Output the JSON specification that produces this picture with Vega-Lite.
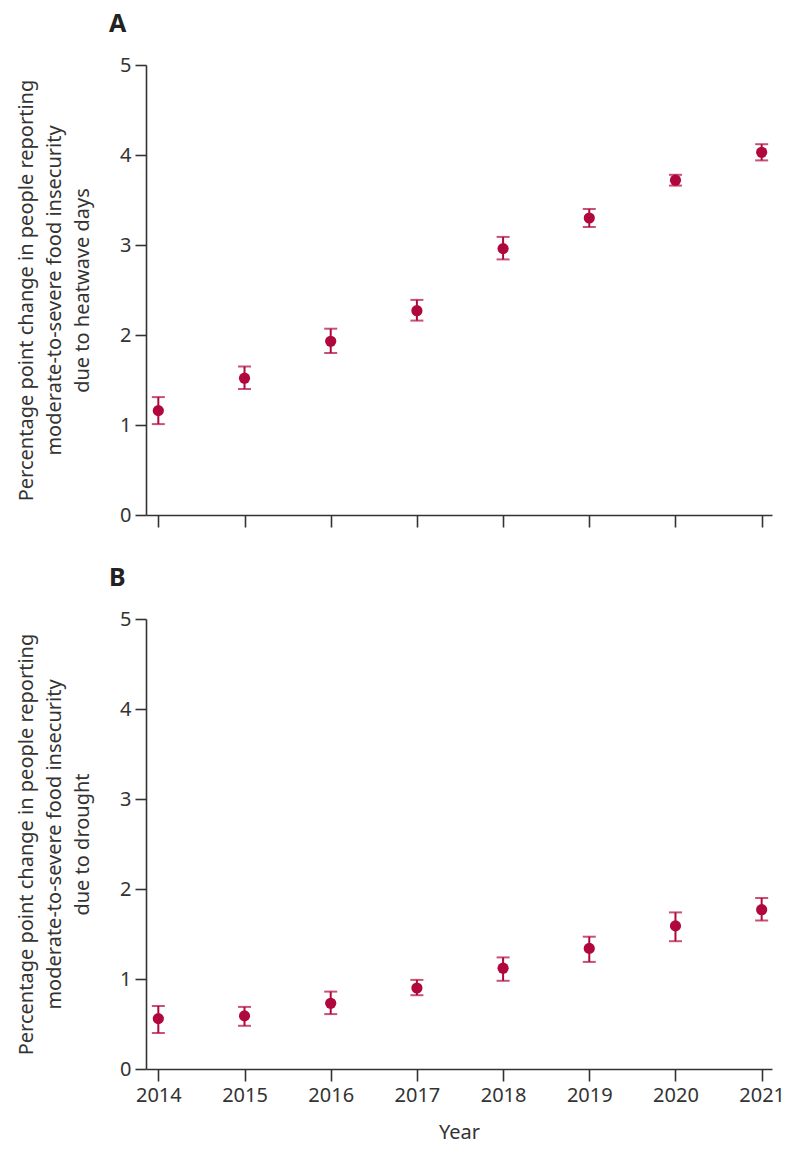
{
  "$schema": "https://vega.github.io/schema/vega-lite/v6.json",
  "background": "white",
  "padding": {"left": 16, "top": 12, "right": 5, "bottom": 5},
  "datasets": {
    "heat": [
      {"year": 2014, "value": 1.16, "lo": 1.01, "hi": 1.31},
      {"year": 2015, "value": 1.52, "lo": 1.40, "hi": 1.65},
      {"year": 2016, "value": 1.93, "lo": 1.80, "hi": 2.07},
      {"year": 2017, "value": 2.27, "lo": 2.16, "hi": 2.39},
      {"year": 2018, "value": 2.96, "lo": 2.84, "hi": 3.09},
      {"year": 2019, "value": 3.30, "lo": 3.20, "hi": 3.40},
      {"year": 2020, "value": 3.72, "lo": 3.66, "hi": 3.78},
      {"year": 2021, "value": 4.03, "lo": 3.94, "hi": 4.12}
    ],
    "drought": [
      {"year": 2014, "value": 0.56, "lo": 0.40, "hi": 0.70},
      {"year": 2015, "value": 0.59, "lo": 0.48, "hi": 0.69},
      {"year": 2016, "value": 0.73, "lo": 0.61, "hi": 0.86},
      {"year": 2017, "value": 0.90, "lo": 0.82, "hi": 0.99},
      {"year": 2018, "value": 1.12, "lo": 0.98, "hi": 1.24},
      {"year": 2019, "value": 1.34, "lo": 1.19, "hi": 1.47},
      {"year": 2020, "value": 1.59, "lo": 1.42, "hi": 1.74},
      {"year": 2021, "value": 1.77, "lo": 1.65, "hi": 1.90}
    ]
  },
  "config": {
    "view": {"stroke": null},
    "font": "Noto Sans",
    "axis": {
      "grid": false,
      "domainColor": "#333333",
      "domainWidth": 1.6,
      "tickColor": "#333333",
      "tickWidth": 1.6,
      "tickSize": 11,
      "labelFont": "Noto Sans",
      "labelFontSize": 20,
      "labelColor": "#333333",
      "labelPadding": 4,
      "titleFont": "Noto Sans",
      "titleFontSize": 20,
      "titleFontWeight": "normal",
      "titleColor": "#333333"
    },
    "title": {"font": "Noto Sans", "fontSize": 25, "fontWeight": "bold", "color": "#222222", "anchor": "start", "frame": "group"}
  },
  "spacing": 38,
  "vconcat": [
    {
      "data": {"name": "heat"},
      "width": 626,
      "height": 450,
      "title": {"text": "A", "dx": -37, "offset": 18},
      "encoding": {
        "x": {"field": "year", "type": "quantitative",
              "scale": {"domain": [2013.857, 2021.12], "nice": false, "zero": false},
              "axis": {"values": [2014, 2015, 2016, 2017, 2018, 2019, 2020, 2021], "labels": false, "title": null, "tickSize": 12}}
      },
      "layer": [
        {
          "mark": {"type": "rule", "color": "#b0083c", "strokeWidth": 2},
          "encoding": {
            "y": {"field": "lo", "type": "quantitative", "scale": {"domain": [0, 5], "nice": false},
                  "axis": {"values": [0, 1, 2, 3, 4, 5], "titleLineHeight": 28, "titlePadding": 27,
                           "title": ["Percentage point change in people reporting", "moderate-to-severe food insecurity", "due to heatwave days"]}},
            "y2": {"field": "hi"}
          }
        },
        {
          "mark": {"type": "tick", "orient": "horizontal", "color": "#b0083c", "thickness": 2, "size": 13},
          "encoding": {
            "y": {"field": "lo", "type": "quantitative", "scale": {"domain": [0, 5], "nice": false},
                  "axis": {"values": [0, 1, 2, 3, 4, 5], "titleLineHeight": 28, "titlePadding": 27,
                           "title": ["Percentage point change in people reporting", "moderate-to-severe food insecurity", "due to heatwave days"]}}
          }
        },
        {
          "mark": {"type": "tick", "orient": "horizontal", "color": "#b0083c", "thickness": 2, "size": 13},
          "encoding": {
            "y": {"field": "hi", "type": "quantitative", "scale": {"domain": [0, 5], "nice": false},
                  "axis": {"values": [0, 1, 2, 3, 4, 5], "titleLineHeight": 28, "titlePadding": 27,
                           "title": ["Percentage point change in people reporting", "moderate-to-severe food insecurity", "due to heatwave days"]}}
          }
        },
        {
          "mark": {"type": "point", "filled": true, "shape": "circle", "size": 125, "opacity": 1, "color": "#b0083c"},
          "encoding": {
            "y": {"field": "value", "type": "quantitative", "scale": {"domain": [0, 5], "nice": false},
                  "axis": {"values": [0, 1, 2, 3, 4, 5], "titleLineHeight": 28, "titlePadding": 27,
                           "title": ["Percentage point change in people reporting", "moderate-to-severe food insecurity", "due to heatwave days"]}}
          }
        }
      ]
    },
    {
      "data": {"name": "drought"},
      "width": 626,
      "height": 450,
      "title": {"text": "B", "dx": -37, "offset": 18},
      "encoding": {
        "x": {"field": "year", "type": "quantitative",
              "scale": {"domain": [2013.857, 2021.12], "nice": false, "zero": false},
              "axis": {"values": [2014, 2015, 2016, 2017, 2018, 2019, 2020, 2021], "format": "d", "title": "Year", "tickSize": 12, "titlePadding": 17}}
      },
      "layer": [
        {
          "mark": {"type": "rule", "color": "#b0083c", "strokeWidth": 2},
          "encoding": {
            "y": {"field": "lo", "type": "quantitative", "scale": {"domain": [0, 5], "nice": false},
                  "axis": {"values": [0, 1, 2, 3, 4, 5], "titleLineHeight": 28, "titlePadding": 27,
                           "title": ["Percentage point change in people reporting", "moderate-to-severe food insecurity", "due to drought"]}},
            "y2": {"field": "hi"}
          }
        },
        {
          "mark": {"type": "tick", "orient": "horizontal", "color": "#b0083c", "thickness": 2, "size": 13},
          "encoding": {
            "y": {"field": "lo", "type": "quantitative", "scale": {"domain": [0, 5], "nice": false},
                  "axis": {"values": [0, 1, 2, 3, 4, 5], "titleLineHeight": 28, "titlePadding": 27,
                           "title": ["Percentage point change in people reporting", "moderate-to-severe food insecurity", "due to drought"]}}
          }
        },
        {
          "mark": {"type": "tick", "orient": "horizontal", "color": "#b0083c", "thickness": 2, "size": 13},
          "encoding": {
            "y": {"field": "hi", "type": "quantitative", "scale": {"domain": [0, 5], "nice": false},
                  "axis": {"values": [0, 1, 2, 3, 4, 5], "titleLineHeight": 28, "titlePadding": 27,
                           "title": ["Percentage point change in people reporting", "moderate-to-severe food insecurity", "due to drought"]}}
          }
        },
        {
          "mark": {"type": "point", "filled": true, "shape": "circle", "size": 125, "opacity": 1, "color": "#b0083c"},
          "encoding": {
            "y": {"field": "value", "type": "quantitative", "scale": {"domain": [0, 5], "nice": false},
                  "axis": {"values": [0, 1, 2, 3, 4, 5], "titleLineHeight": 28, "titlePadding": 27,
                           "title": ["Percentage point change in people reporting", "moderate-to-severe food insecurity", "due to drought"]}}
          }
        }
      ]
    }
  ]
}
